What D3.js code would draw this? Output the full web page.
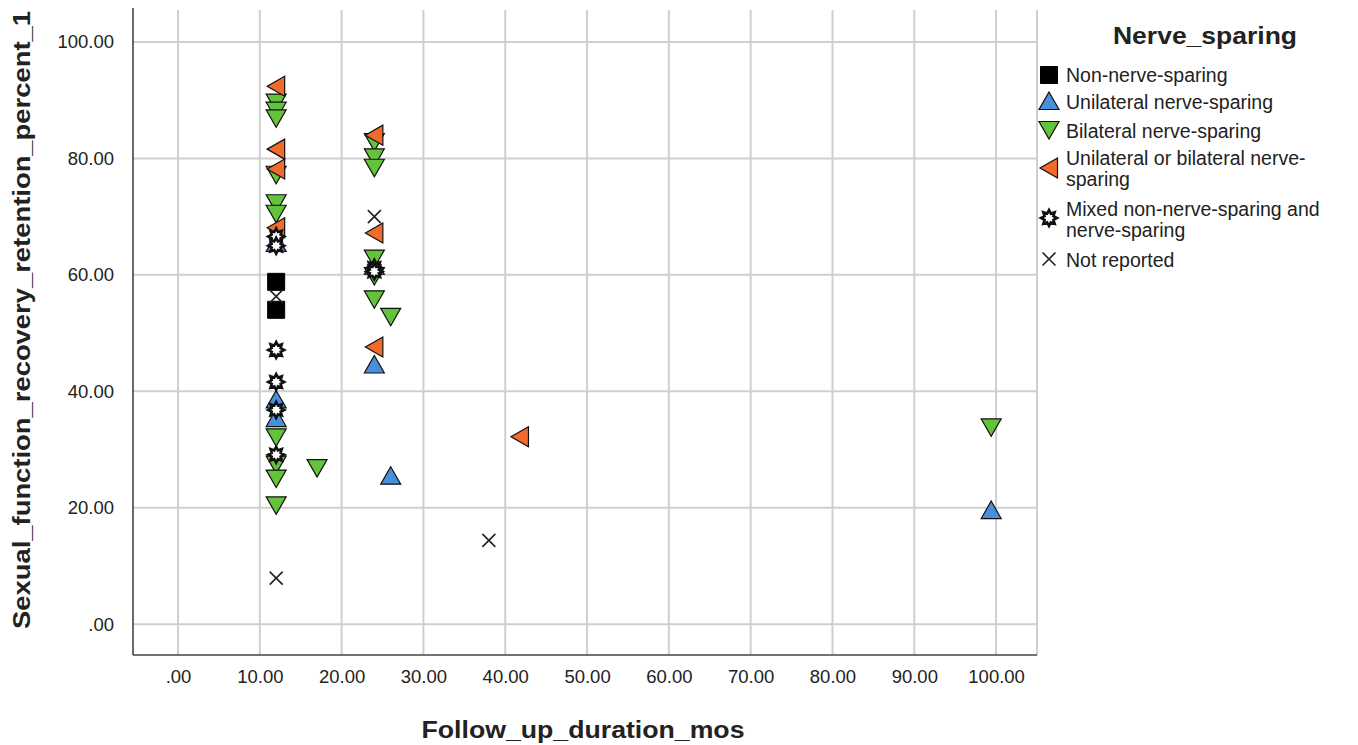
<!DOCTYPE html>
<html>
<head>
<meta charset="utf-8">
<script src="https://cdn.jsdelivr.net/npm/d3@7"></script>
<style>
  body { margin: 0; background: #fff; }
  text { font-family: "Liberation Sans", Arial, sans-serif; fill: #222; }
</style>
</head>
<body>
<div id="chart"></div>
<script>
// chart data
var categories = ["Non-nerve-sparing", "Unilateral nerve-sparing", "Bilateral nerve-sparing",
  "Unilateral or bilateral nerve-sparing", "Mixed non-nerve-sparing and nerve-sparing", "Not reported"];

var nonNerveX = [12, 12];
var nonNerveY = [58.8, 54.0];

var unilateralX = [12, 12, 12, 24, 24, 26, 99.4];
var unilateralY = [65.5, 38.6, 35.4, 61.6, 44.6, 25.5, 19.6];

var bilateralX = [12, 12, 12, 12, 12, 12, 12, 12, 12, 12, 17, 24, 24, 24, 24, 24, 24, 26, 99.4];
var bilateralY = [89.6, 88.2, 86.9, 77.2, 72.3, 70.5, 32.1, 27.4, 25.0, 20.4, 26.8, 82.8, 80.2, 78.4, 62.8, 59.8, 55.8, 52.8, 33.8];

var eitherX = [12, 12, 12, 12, 24, 24, 24, 41.8];
var eitherY = [92.4, 81.6, 78.2, 68.1, 84.0, 67.2, 47.6, 32.2];

var mixedX = [12, 12, 12, 12, 12, 12, 24, 24];
var mixedY = [66.6, 65.0, 47.1, 41.6, 36.8, 29.1, 61.2, 60.6];

var notReportedX = [12, 12, 24, 38];
var notReportedY = [56.3, 7.9, 70.0, 14.4];

var xTicks = [0, 10, 20, 30, 40, 50, 60, 70, 80, 90, 100];
var yTicks = [0, 20, 40, 60, 80, 100];

// svg setup
var svgWidth = 1358;
var svgHeight = 745;
var plot = { left: 133, right: 1037, top: 10, bottom: 655 };

var svg = d3.select("#chart").append("svg")
  .attr("width", svgWidth)
  .attr("height", svgHeight);

var xScale = d3.scaleLinear().domain([-5.5, 105]).range([plot.left, plot.right]);
var yScale = d3.scaleLinear().domain([-5.3, 105.5]).range([plot.bottom, plot.top]);

// gridlines
var grid = svg.append("g");
grid.selectAll("line.vg").data(xTicks).enter().append("line")
  .attr("x1", d => xScale(d)).attr("x2", d => xScale(d))
  .attr("y1", plot.top).attr("y2", plot.bottom)
  .attr("stroke", "#cfcfcf").attr("stroke-width", 2);
grid.selectAll("line.hg").data(yTicks).enter().append("line")
  .attr("x1", plot.left).attr("x2", plot.right)
  .attr("y1", d => yScale(d)).attr("y2", d => yScale(d))
  .attr("stroke", "#cfcfcf").attr("stroke-width", 2);
grid.append("line")
  .attr("x1", plot.right).attr("x2", plot.right)
  .attr("y1", plot.top).attr("y2", plot.bottom)
  .attr("stroke", "#cfcfcf").attr("stroke-width", 2);

// axes
var fmt = d => (d === 0 ? ".00" : d3.format(".2f")(d));

var bottomAxis = d3.axisBottom(xScale).tickValues(xTicks).tickFormat(fmt).tickSize(0).tickPadding(15);
var leftAxis = d3.axisLeft(yScale).tickValues(yTicks).tickFormat(fmt).tickSize(0).tickPadding(19);

var xAxis = svg.append("g")
  .attr("transform", `translate(0, ${plot.bottom})`)
  .call(bottomAxis);
var yAxis = svg.append("g")
  .attr("transform", `translate(${plot.left}, 0)`)
  .call(leftAxis);

[xAxis, yAxis].forEach(function(ax) {
  ax.select(".domain").remove();
  ax.selectAll("text")
    .style("font-size", "18.5px")
    .style("font-family", "'Liberation Sans', Arial, sans-serif")
    .attr("fill", "#2a2a2a");
});

svg.append("line")
  .attr("x1", plot.left).attr("x2", plot.left)
  .attr("y1", plot.top - 2).attr("y2", plot.bottom)
  .attr("stroke", "#444").attr("stroke-width", 1.6);
svg.append("line")
  .attr("x1", plot.left).attr("x2", plot.right)
  .attr("y1", plot.bottom).attr("y2", plot.bottom)
  .attr("stroke", "#444").attr("stroke-width", 1.6);

// axis titles
svg.append("text")
  .attr("x", 583).attr("y", 738)
  .attr("text-anchor", "middle")
  .style("font-size", "23px").style("font-weight", "bold")
  .attr("textLength", 323).attr("lengthAdjust", "spacingAndGlyphs")
  .text("Follow_up_duration_mos");

svg.append("text")
  .attr("transform", "translate(30, 320) rotate(-90)")
  .attr("text-anchor", "middle")
  .style("font-size", "23px").style("font-weight", "bold")
  .attr("textLength", 618).attr("lengthAdjust", "spacingAndGlyphs")
  .text("Sexual_function_recovery_retention_percent_1");

// marker shapes
function squarePath(s) {
  var h = s / 2;
  return `M${-h},${-h}H${h}V${h}H${-h}Z`;
}
function triUpPath(s) {
  var h = s / 2;
  return `M0,${-h * 0.9}L${h},${h * 0.85}L${-h},${h * 0.85}Z`;
}
function triDownPath(s) {
  var h = s / 2;
  return `M${-h},${-h * 0.85}L${h},${-h * 0.85}L0,${h * 0.9}Z`;
}
function triLeftPath(s) {
  var h = s / 2;
  return `M${-h * 0.9},0L${h * 0.85},${-h}L${h * 0.85},${h}Z`;
}
function starPath(s) {
  var ro = s / 2, ri = s * 0.3, pts = [];
  for (var i = 0; i < 16; i++) {
    var r = i % 2 === 0 ? ro : ri;
    var a = Math.PI * i / 8 - Math.PI / 2;
    pts.push([r * Math.cos(a), r * Math.sin(a)]);
  }
  return "M" + pts.map(p => p[0].toFixed(2) + "," + p[1].toFixed(2)).join("L") + "Z";
}
function crossPath(s) {
  var h = s / 2;
  return `M${-h},${-h}L${h},${h}M${h},${-h}L${-h},${h}`;
}

var seriesList = [
  { name: categories[0], xs: nonNerveX, ys: nonNerveY, path: squarePath(17), fill: "#000", stroke: "#000", sw: 1 },
  { name: categories[1], xs: unilateralX, ys: unilateralY, path: triUpPath(20), fill: "#4a8fdc", stroke: "#111", sw: 1.2 },
  { name: categories[2], xs: bilateralX, ys: bilateralY, path: triDownPath(20), fill: "#63c33a", stroke: "#111", sw: 1.2 },
  { name: categories[3], xs: eitherX, ys: eitherY, path: triLeftPath(20), fill: "#f26a2c", stroke: "#111", sw: 1.2 },
  { name: categories[4], xs: mixedX, ys: mixedY, path: starPath(16), fill: "#fff", stroke: "#111", sw: 2.6 },
  { name: categories[5], xs: notReportedX, ys: notReportedY, path: crossPath(13), fill: "none", stroke: "#222", sw: 1.6 }
];

// draw points
seriesList.forEach(function(s) {
  var pts = s.xs.map((x, i) => ({ x: x, y: s.ys[i] }));
  svg.append("g").selectAll("path")
    .data(pts)
    .enter()
    .append("path")
    .attr("d", s.path)
    .attr("transform", d => `translate(${xScale(d.x)}, ${yScale(d.y)})`)
    .attr("fill", s.fill)
    .attr("stroke", s.stroke)
    .attr("stroke-width", s.sw)
    .attr("stroke-linejoin", "miter");
});

// legend
var legend = svg.append("g");
legend.append("text")
  .attr("x", 1205).attr("y", 44)
  .attr("text-anchor", "middle")
  .style("font-size", "23px").style("font-weight", "bold")
  .attr("textLength", 184).attr("lengthAdjust", "spacingAndGlyphs")
  .text("Nerve_sparing");

var legendRows = [
  { markerY: 75, lines: ["Non-nerve-sparing"], y0: 82 },
  { markerY: 101, lines: ["Unilateral nerve-sparing"], y0: 109 },
  { markerY: 130, lines: ["Bilateral nerve-sparing"], y0: 138 },
  { markerY: 168, lines: ["Unilateral or bilateral nerve-", "sparing"], y0: 165 },
  { markerY: 218, lines: ["Mixed non-nerve-sparing and", "nerve-sparing"], y0: 216 },
  { markerY: 259, lines: ["Not reported"], y0: 267 }
];

legendRows.forEach(function(row, i) {
  var s = seriesList[i];
  legend.append("path")
    .attr("d", s.path)
    .attr("transform", `translate(1049, ${row.markerY})`)
    .attr("fill", s.fill)
    .attr("stroke", s.stroke)
    .attr("stroke-width", s.sw);
  row.lines.forEach(function(line, j) {
    legend.append("text")
      .attr("x", 1066)
      .attr("y", row.y0 + j * 21)
      .style("font-size", "19.5px")
      .text(line);
  });
});
</script>
</body>
</html>
